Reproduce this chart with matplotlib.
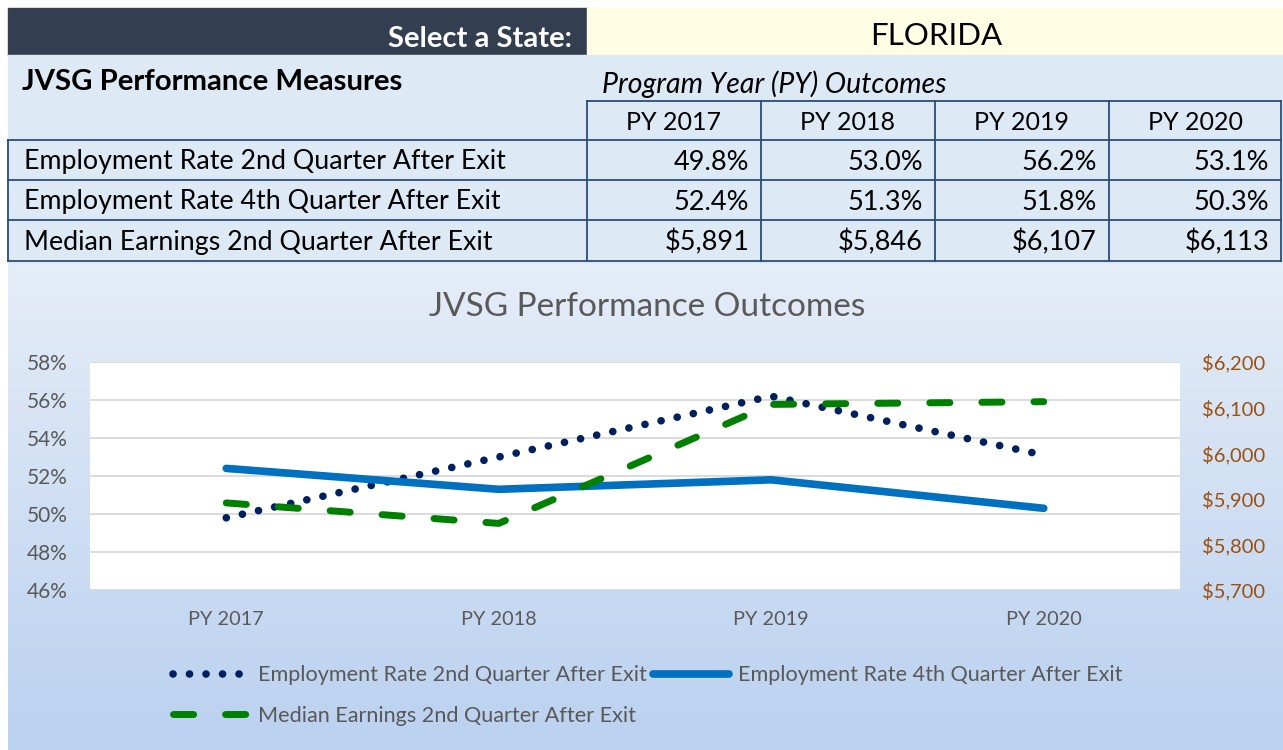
import numpy as np
import matplotlib
matplotlib.use("Agg")
import matplotlib.pyplot as plt
from matplotlib.patches import Rectangle
from matplotlib.lines import Line2D

plt.rcParams['font.family'] = ['Lato', 'DejaVu Sans']

# данные
state = "FLORIDA"
years = ["PY 2017", "PY 2018", "PY 2019", "PY 2020"]
measures = ["Employment Rate 2nd Quarter After Exit",
            "Employment Rate 4th Quarter After Exit",
            "Median Earnings 2nd Quarter After Exit"]
emp_q2 = [49.8, 53.0, 56.2, 53.1]
emp_q4 = [52.4, 51.3, 51.8, 50.3]
earn_q2 = [5891, 5846, 6107, 6113]

W, H = 1283, 750
fig = plt.figure(figsize=(W / 100, H / 100), dpi=100)


def fx(x):
    return x / W


def fy(y):
    return 1 - y / H


def rect(x0, y0, x1, y1, color, **kw):
    fig.patches.append(Rectangle((fx(x0), fy(y1)), fx(x1) - fx(x0), fy(y0) - fy(y1),
                                 transform=fig.transFigure, color=color, zorder=0, **kw))


def line(x0, y0, x1, y1, color="#2a4d78", lw=1.3):
    fig.lines.append(Line2D([fx(x0), fx(x1)], [fy(y0), fy(y1)], transform=fig.transFigure,
                            color=color, lw=lw, zorder=2))


# шапка
rect(8, 8, 587, 55, "#333f50")
rect(587, 8, 1283, 55, "#fffde3")
rect(8, 55, 1283, 262, "#dde9f5")
fig.text(fx(572), fy(39), "Select a State:", color="white", fontsize=21, fontweight="bold",
         ha="right", va="center")
fig.text(fx(936), fy(36), state, color="black", fontsize=22.5, ha="center", va="center")
fig.text(fx(22), fy(82), "JVSG Performance Measures", fontsize=21.2, fontweight="bold",
         ha="left", va="center")
fig.text(fx(602), fy(84), "Program Year (PY) Outcomes", fontsize=20.5, style="italic",
         ha="left", va="center")

# таблица
col_x = [587, 761, 935, 1109, 1281]
row_y = [140, 180, 220, 261]
line(587, 101, 1281, 101)
for x in col_x:
    line(x, 101, x, 261)
line(8, 140, 8, 261)
for y in row_y:
    line(8, y, 1281, y)
for i, yr in enumerate(years):
    fig.text(fx((col_x[i] + col_x[i + 1]) / 2), fy(122), yr, fontsize=18, ha="center", va="center")

rows = [[f"{v:.1f}%" for v in emp_q2],
        [f"{v:.1f}%" for v in emp_q4],
        ["${:,.0f}".format(v) for v in earn_q2]]
for r, name in enumerate(measures):
    yc = (row_y[r] + row_y[r + 1]) / 2 + 2
    fig.text(fx(24), fy(yc), name, fontsize=19.3, ha="left", va="center")
    for i, s in enumerate(rows[r]):
        fig.text(fx(col_x[i + 1] - 12), fy(yc), s, fontsize=19.5, ha="right", va="center")

# градиентный фон графика
bg = fig.add_axes([fx(8), fy(750), fx(1283) - fx(8), fy(262) - fy(750)], zorder=-1)
grad = np.linspace(0, 1, 256).reshape(-1, 1)
c_top = np.array([0.90, 0.93, 0.97])
c_bot = np.array([0.73, 0.82, 0.94])
img = c_top[None, None, :] * (1 - grad[:, :, None]) + c_bot[None, None, :] * grad[:, :, None]
bg.imshow(img, aspect="auto", extent=[0, 1, 0, 1])
bg.axis("off")
fig.text(fx(647), fy(307), "JVSG Performance Outcomes", fontsize=24, color="#595959",
         ha="center", va="center")

# оси
ax = fig.add_axes([fx(90), fy(590), fx(1180) - fx(90), fy(362) - fy(590)])
ax.set_facecolor("white")
x = np.arange(len(years))
ax.set_xlim(-0.5, 3.5)
ax.set_ylim(46, 58)
ax.set_yticks(np.arange(46, 59, 2))
ax.set_yticklabels([f"{v}%" for v in range(46, 59, 2)])
ax.grid(axis="y", color="#d9d9d9", lw=1.3)
ax.set_axisbelow(True)
for s in ax.spines.values():
    s.set_visible(False)
ax.tick_params(axis="y", length=0, pad=16, labelsize=15, labelcolor="#595959")
ax.set_xticks(x)
ax.set_xticklabels(years)
ax.tick_params(axis="x", length=0, pad=15, labelsize=14.3, labelcolor="#595959")

ax2 = ax.twinx()
ax2.set_ylim(5700, 6200)
ax2.set_yticks(np.arange(5700, 6201, 100))
ax2.set_yticklabels(["${:,.0f}".format(v) for v in range(5700, 6201, 100)])
ax2.tick_params(axis="y", length=0, pad=16, labelsize=14.5, labelcolor="#9c4f0e")
for s in ax2.spines.values():
    s.set_visible(False)

l1, = ax.plot(x, emp_q2, color="#002060", lw=5.5, linestyle=(0, (0.01, 2.15)),
              dash_capstyle="round", label=measures[0], zorder=3)
l2, = ax.plot(x, emp_q4, color="#0070c0", lw=5.5, solid_capstyle="round",
              label=measures[1], zorder=3)
l3, = ax2.plot(x, earn_q2, color="#008000", lw=5, linestyle=(0, (2.9, 4.6)),
               dash_capstyle="round", label=measures[2], zorder=3)

leg = fig.legend([l1, l3, l2], [measures[0], measures[2], measures[1]], ncol=2,
                 loc="upper left", bbox_to_anchor=(fx(158), fy(650)), frameon=False,
                 fontsize=15.6, handlelength=3.5, handletextpad=0.4, columnspacing=0.3,
                 labelspacing=0.95, borderpad=0.2)
for t in leg.get_texts():
    t.set_color("#595959")

fig.savefig("out.png", dpi=100)
